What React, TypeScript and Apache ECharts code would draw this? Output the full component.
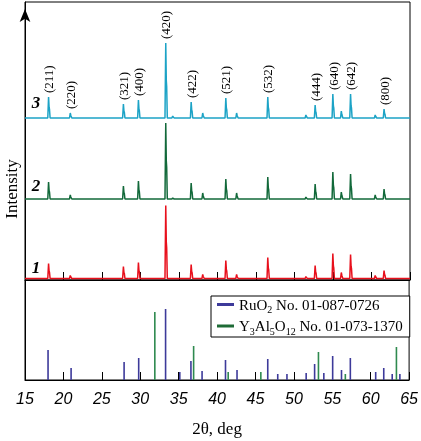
import React, { useEffect, useRef } from "react";
import * as echarts from "echarts";

// 2θ positions of the garnet reflections seen in the measured patterns (deg)
const peakPos = [18.08, 20.9, 27.8, 29.75, 33.3, 34.2, 36.6, 38.1, 41.1, 42.5, 46.55, 51.5, 52.7, 55.0, 56.1, 57.3, 60.5, 61.65];
const hkl = ["(211)", "(220)", "(321)", "(400)", "(420)", "", "(422)", "", "(521)", "", "(532)", "", "(444)", "(640)", "", "(642)", "", "(800)"];
// peak intensities (arb. units) of the three samples
const sample1 = [15, 3, 12, 16, 73, 0, 14, 4, 18, 4, 21, 2, 13, 25, 6, 24, 3, 8];
const sample2 = [17, 4, 13, 18, 76, 1, 16, 6, 20, 6, 22, 2, 15, 27, 7, 25, 4, 10];
const sample3 = [21, 5, 14, 18, 75, 2, 16, 5, 20, 5, 21, 3, 13, 24, 7, 24, 3, 9];
// vertical offsets of the stacked patterns (arb. units)
const sampleOffsets = [1.5, 81, 162];
const sampleNames = ["1", "2", "3"];

// reference cards
const ruo2Pos = [18.0, 21.0, 27.9, 29.8, 33.3, 35.15, 36.6, 38.05, 41.1, 42.6, 46.6, 47.9, 49.1, 51.6, 52.7, 53.9, 55.05, 56.2, 57.35, 60.65, 61.7, 62.8, 63.8];
const ruo2Int = [30, 12, 18, 22, 71, 8, 19, 9, 20, 10, 21, 6, 6, 7, 16, 7, 24, 10, 22, 8, 12, 6, 6];
const yagPos = [31.9, 36.95, 41.45, 45.7, 53.2, 56.7, 63.35];
const yagInt = [68, 34, 8, 8, 28, 6, 33];

const xTicks = [15, 20, 25, 30, 35, 40, 45, 50, 55, 60, 65];

const SERIF = '"Liberation Serif", "Times New Roman", serif';
const SANS = '"Liberation Sans", Arial, sans-serif';
const COLORS = ["#e8101c", "#12693a", "#1ca3c6"];
const RUO2_COLOR = "#3d3a9a";
const YAG_COLOR = "#2f8a4f";

function profile(heights: number[], base: number): number[][] {
  const pts: number[][] = [[xTicks[0], base]];
  peakPos.forEach((x, i) => {
    const h = heights[i];
    if (h <= 0) return;
    pts.push([x - 0.12, base], [x - 0.02, base + h], [x + 0.05, base + h * 0.5], [x + 0.1, base + h * 0.42], [x + 0.18, base]);
  });
  pts.push([xTicks[xTicks.length - 1], base]);
  return pts;
}

export default function App() {
  const ref = useRef<HTMLDivElement>(null);
  useEffect(() => {
    if (!ref.current) return;
    const chart = echarts.init(ref.current, null, { renderer: "svg" });
    const samples = [sample1, sample2, sample3];

    const traceSeries = samples.map((s, k) => ({
      type: "line",
      name: "sample" + sampleNames[k],
      xAxisIndex: 0,
      yAxisIndex: 0,
      data: profile(s, sampleOffsets[k]),
      showSymbol: false,
      symbol: "none",
      silent: true,
      lineStyle: { color: COLORS[k], width: 1.5 },
      z: 3,
    }));

    const labelData = peakPos
      .map((x, i) => [x, sampleOffsets[2] + sample3[i], hkl[i]])
      .filter((d) => d[2] !== "");

    const stickRender = (color: string) => (params: any, api: any) => {
      const s = api.coord([api.value(0), 0]);
      const e = api.coord([api.value(0), api.value(1)]);
      return {
        type: "line",
        shape: { x1: s[0], y1: s[1], x2: e[0], y2: e[1] },
        style: { stroke: color, lineWidth: 1.6 },
      };
    };

    const rich = {
      n: { fontFamily: SERIF, fontSize: 15, lineHeight: 20, color: "#000" },
      s: { fontFamily: SERIF, fontSize: 10, lineHeight: 10, verticalAlign: "bottom", color: "#000" },
    };

    const option: any = {
      animation: false,
      grid: [
        { left: 25, top: 2, width: 385, height: 278, show: true, borderColor: "#000", borderWidth: 1, backgroundColor: "transparent" },
        { left: 25, top: 280, width: 385, height: 100, show: true, borderColor: "#000", borderWidth: 1, backgroundColor: "transparent" },
      ],
      xAxis: [
        {
          gridIndex: 0, type: "value", min: 15, max: 65, interval: 5,
          axisLine: { show: true, lineStyle: { color: "#000", width: 1 } },
          axisTick: { show: true, inside: true, length: 8, lineStyle: { color: "#000", width: 1 } },
          axisLabel: { show: false }, splitLine: { show: false },
        },
        {
          gridIndex: 1, type: "value", min: 15, max: 65, interval: 5,
          axisLine: { show: true, lineStyle: { color: "#000", width: 1 } },
          axisTick: { show: true, inside: true, length: 8, lineStyle: { color: "#000", width: 1 } },
          axisLabel: { show: true, margin: 10, color: "#000", fontFamily: SANS, fontStyle: "italic", fontSize: 16 },
          splitLine: { show: false },
          name: "2θ, deg", nameLocation: "middle", nameGap: 40,
          nameTextStyle: { fontFamily: SERIF, fontSize: 17, color: "#000" },
        },
      ],
      yAxis: [
        {
          gridIndex: 0, type: "value", min: 0, max: 278,
          axisLine: { show: true, symbol: ["none", "arrow"], symbolSize: [8, 13], symbolOffset: [0, -7], lineStyle: { color: "#000", width: 1 } },
          axisTick: { show: false }, axisLabel: { show: false }, splitLine: { show: false },
        },
        {
          gridIndex: 1, type: "value", min: 0, max: 100,
          axisLine: { show: true, lineStyle: { color: "#000", width: 1 } },
          axisTick: { show: false }, axisLabel: { show: false }, splitLine: { show: false },
        },
      ],
      legend: {
        orient: "vertical", left: 211, top: 296,
        padding: [1, 7, 1, 6], itemGap: 4, itemWidth: 17, itemHeight: 3, icon: "rect",
        borderColor: "#000", borderWidth: 1, backgroundColor: "#fff",
        data: [
          { name: "RuO2", itemStyle: { color: RUO2_COLOR } },
          { name: "Y3Al5O12", itemStyle: { color: "#1e6b36" } },
        ],
        formatter: (name: string) =>
          name === "RuO2"
            ? "{n|RuO}{s|2}{n| No. 01-087-0726}"
            : "{n|Y}{s|3}{n|Al}{s|5}{n|O}{s|12}{n| No. 01-073-1370}",
        textStyle: { rich },
      },
      series: [
        ...traceSeries,
        {
          type: "custom",
          name: "hkl",
          xAxisIndex: 0, yAxisIndex: 0,
          silent: true,
          data: labelData,
          encode: { x: 0, y: 1 },
          renderItem: (params: any, api: any) => {
            const p = api.coord([api.value(0), api.value(1)]);
            const d = labelData[params.dataIndex];
            return {
              type: "text",
              x: p[0], y: p[1] - 4, rotation: Math.PI / 2,
              style: { text: d[2], font: `13px ${SERIF}`, fill: "#000", align: "left", verticalAlign: "middle" },
            };
          },
          z: 4,
        },
        {
          type: "custom",
          name: "RuO2",
          xAxisIndex: 1, yAxisIndex: 1,
          itemStyle: { color: RUO2_COLOR },
          data: ruo2Pos.map((x, i) => [x, ruo2Int[i]]),
          encode: { x: 0, y: 1 },
          renderItem: stickRender(RUO2_COLOR),
          z: 3,
        },
        {
          type: "custom",
          name: "Y3Al5O12",
          xAxisIndex: 1, yAxisIndex: 1,
          itemStyle: { color: YAG_COLOR },
          data: yagPos.map((x, i) => [x, yagInt[i]]),
          encode: { x: 0, y: 1 },
          renderItem: stickRender(YAG_COLOR),
          z: 3,
        },
      ],
      graphic: [
        {
          type: "text", x: 11, y: 189, rotation: Math.PI / 2,
          style: { text: "Intensity", font: `17px ${SERIF}`, fill: "#000", align: "center", verticalAlign: "middle" },
        },
        ...sampleNames.map((t, k) => ({
          type: "text", x: 36, y: [267, 185, 102][k],
          style: { text: t, font: `italic bold 17px ${SERIF}`, fill: "#000", align: "center", verticalAlign: "middle" },
        })),
      ],
    };
    chart.setOption(option);
    return () => chart.dispose();
  }, []);
  return <div ref={ref} style={{ position: "fixed", left: 0, top: 0, width: 421, height: 441 }} />;
}
